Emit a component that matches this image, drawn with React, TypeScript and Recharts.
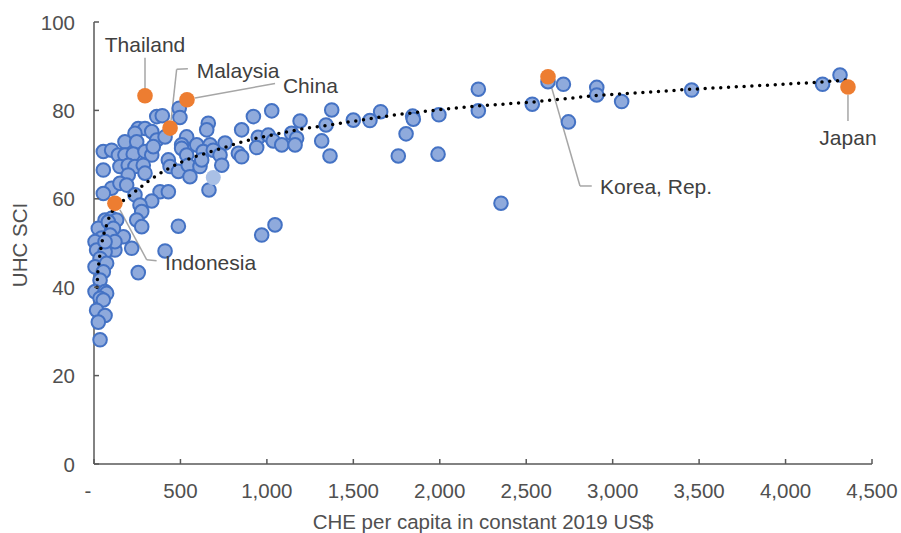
import { ScatterChart, Scatter, XAxis, YAxis, ReferenceLine, ReferenceDot, Label } from 'recharts'

const FONT = '"Liberation Sans", Arial, Helvetica, sans-serif'
const AXIS = '#595959'
const TICK_TEXT = '#505050'
const NOTE_TEXT = '#404040'

const xTicks = [0, 500, 1000, 1500, 2000, 2500, 3000, 3500, 4000, 4500]
const yTicks = [0, 20, 40, 60, 80, 100]

// [CHE per capita, UHC SCI]
const otherCountries: [number, number][] = [
  [363, 78.6], [395, 78.8], [493, 80.5], [497, 78.4], [661, 77.1], [652, 75.6], [256, 75.9], [295, 75.9],
  [334, 75.2], [237, 74.8], [179, 72.9], [247, 72.9], [363, 73.3], [411, 74.0], [536, 74.0], [507, 72.2],
  [594, 72.2], [758, 72.6], [671, 72.2], [54, 70.7], [102, 71.0], [141, 69.9], [179, 69.9], [227, 70.1],
  [295, 70.7], [334, 69.9], [343, 71.8], [507, 71.4], [536, 69.9], [632, 70.7], [690, 71.0], [729, 69.9],
  [835, 70.3], [54, 66.5], [150, 67.3], [198, 67.6], [237, 67.3], [285, 67.6], [295, 65.8], [198, 65.4],
  [430, 68.8], [440, 67.3], [488, 66.2], [545, 67.6], [555, 65.0], [613, 67.3], [623, 68.8], [739, 67.6],
  [665, 62.0], [102, 62.4], [150, 63.5], [189, 63.1], [237, 60.9], [54, 61.2], [382, 61.6], [430, 61.6],
  [334, 59.5], [266, 58.6], [276, 57.1], [247, 55.2], [276, 53.7], [488, 53.8], [411, 48.2], [256, 43.3],
  [170, 51.4], [218, 48.8], [121, 48.4], [64, 55.2], [102, 55.6], [131, 55.2], [25, 53.3], [44, 51.1],
  [6, 50.3], [15, 48.4], [64, 48.0], [35, 46.5], [6, 44.6], [73, 45.4], [54, 43.5], [35, 41.6],
  [6, 39.0], [64, 39.0], [73, 38.6], [35, 37.5], [54, 37.1], [15, 34.8], [64, 33.6], [25, 32.1],
  [35, 28.1], [83, 54.8], [112, 53.3], [93, 51.8], [121, 50.3], [64, 50.3],
  [1028, 79.9], [922, 78.6], [854, 75.6], [950, 73.9], [941, 71.6], [854, 69.5], [1008, 74.4], [1037, 73.1],
  [1086, 72.2], [1143, 74.8], [1172, 73.7], [1163, 72.2], [1192, 77.6], [1317, 73.1], [1342, 76.7], [1375, 80.1],
  [1365, 69.7], [1500, 77.8], [1596, 77.7], [1658, 79.7], [1805, 74.7], [1760, 69.7], [1843, 78.7], [1847, 78.0],
  [1995, 79.0], [1990, 70.1], [970, 51.8], [1047, 54.1], [2223, 84.8], [2223, 79.9], [2354, 59.0], [2535, 81.4],
  [2626, 86.5], [2715, 85.9], [2744, 77.4], [2908, 85.2], [2908, 83.5], [3052, 82.0], [3457, 84.6], [4214, 85.9],
  [4315, 88.0],
]
const fadedPoint: [number, number][] = [[690, 64.8]]

const highlightNames = ['Thailand', 'Malaysia', 'China', 'Indonesia', 'Korea, Rep.', 'Japan']
const highlightChe = [295, 440, 538, 121, 2626, 4361]
const highlightUhc = [83.3, 76.0, 82.4, 59.0, 87.6, 85.3]

// leader lines and label anchors, in data units
const leaderPaths: [number, number][][] = [
  [[295, 84.8], [295, 91.9]],
  [[446, 77.8], [478, 89.3], [543, 89.4]],
  [[584, 82.8], [1047, 86.1]],
  [[150, 57.5], [305, 46.2], [362, 46.0]],
  [[2643, 85.7], [2811, 62.9], [2879, 62.9]],
  [[4361, 83.5], [4361, 77.6]],
]
const labelAt: [number, number][] = [[295, 94.8], [594, 89.1], [1093, 85.7], [411, 45.5], [2927, 62.7], [4361, 73.8]]
const labelAnchor = ['middle', 'start', 'start', 'start', 'start', 'middle']

// dotted trend line
const trendChe = [17, 23, 35, 52, 81, 110, 150, 191, 249, 324, 405, 492, 578, 671, 763, 856, 949, 1087, 1232, 1365, 1510, 1654, 1787, 1984, 2215, 2539, 2886, 3459, 3893, 4199, 4361]
const trendUhc = [40.0, 43.9, 47.7, 51.4, 55.2, 57.5, 59.0, 60.2, 62.0, 64.3, 66.3, 68.1, 69.5, 70.6, 71.7, 72.9, 73.8, 74.9, 76.0, 76.7, 77.6, 78.5, 79.2, 80.1, 81.0, 81.9, 83.3, 84.8, 85.7, 86.4, 86.9]

const blueData = otherCountries.map(([che, uhc]) => ({ che, uhc }))
const fadedData = fadedPoint.map(([che, uhc]) => ({ che, uhc }))
const orangeData = highlightNames.map((name, i) => ({ name, che: highlightChe[i], uhc: highlightUhc[i] }))
const trendData = trendChe.map((che, i) => ({ che, uhc: trendUhc[i] }))

const fmtX = (v: number) => (v === 0 ? '-' : v.toLocaleString('en-US'))

function XTick(p: any) {
  const v = p.payload.value
  return (
    <g>
      <line x1={p.x} y1={p.y} x2={p.x} y2={p.y - 5} stroke={AXIS} strokeWidth={1.5} />
      <text x={p.x} y={p.y + 34} dx={v === 0 ? -6 : 0} textAnchor="middle" fontSize={20.5} fontFamily={FONT} fill={TICK_TEXT}>
        {fmtX(v)}
      </text>
    </g>
  )
}

function YTick(p: any) {
  return (
    <g>
      <line x1={p.x} y1={p.y} x2={p.x + 5} y2={p.y} stroke={AXIS} strokeWidth={1.5} />
      <text x={p.x - 19} y={p.y + 7.5} textAnchor="end" fontSize={20.5} fontFamily={FONT} fill={TICK_TEXT}>
        {p.payload.value}
      </text>
    </g>
  )
}

const BlueDot = (p: any) => <circle cx={p.cx} cy={p.cy} r={6.8} fill="#8faadc" stroke="#4472c4" strokeWidth={2} />
const FadedDot = (p: any) => <circle cx={p.cx} cy={p.cy} r={7.5} fill="#a9c0e6" />
const OrangeDot = (p: any) => <circle cx={p.cx} cy={p.cy} r={7.8} fill="#ed7d31" />

export default function App() {
  return (
    <div style={{ position: 'absolute', left: 0, top: 0, width: 901, height: 533, background: '#fff' }}>
      <ScatterChart width={901} height={533} margin={{ top: 22, right: 29, bottom: 0, left: 0 }}>
        <XAxis
          type="number"
          dataKey="che"
          domain={[0, 4500]}
          ticks={xTicks}
          interval={0}
          height={69}
          tickSize={0}
          tickMargin={0}
          tickLine={false}
          tick={<XTick />}
          axisLine={{ stroke: AXIS, strokeWidth: 1.5 }}
        >
          <Label
            content={(p: any) => (
              <text x={p.viewBox.x + p.viewBox.width / 2} y={p.viewBox.y + p.viewBox.height - 4} textAnchor="middle" fontSize={20.5} fontFamily={FONT} fill={TICK_TEXT}>
                CHE per capita in constant 2019 US$
              </text>
            )}
          />
        </XAxis>
        <YAxis
          type="number"
          dataKey="uhc"
          domain={[0, 100]}
          ticks={yTicks}
          interval={0}
          width={94}
          tickSize={0}
          tickMargin={0}
          tickLine={false}
          tick={<YTick />}
          axisLine={{ stroke: AXIS, strokeWidth: 1.5 }}
        >
          <Label
            content={(p: any) => {
              const cx = p.viewBox.x + 27
              const cy = p.viewBox.y + p.viewBox.height / 2 + 2
              return (
                <text x={cx} y={cy} transform={`rotate(-90 ${cx} ${cy})`} textAnchor="middle" fontSize={20.5} fontFamily={FONT} fill={TICK_TEXT}>
                  UHC SCI
                </text>
              )
            }}
          />
        </YAxis>
        <Scatter data={blueData} shape={BlueDot} isAnimationActive={false} legendType="none" />
        <Scatter data={fadedData} shape={FadedDot} isAnimationActive={false} legendType="none" />
        {leaderPaths.flatMap((path, i) =>
          path.slice(1).map((pt, j) => (
            <ReferenceLine
              key={`l${i}-${j}`}
              segment={[{ x: path[j][0], y: path[j][1] }, { x: pt[0], y: pt[1] }]}
              stroke="#a6a6a6"
              strokeWidth={1.5}
            />
          ))
        )}
        <Scatter
          data={trendData}
          line={{ stroke: '#000', strokeWidth: 3.5, strokeDasharray: '0 7.8', strokeLinecap: 'round' }}
          shape={() => <g />}
          isAnimationActive={false}
          legendType="none"
        />
        <Scatter data={orangeData} shape={OrangeDot} isAnimationActive={false} legendType="none" />
        {highlightNames.map((name, i) => (
          <ReferenceDot
            key={name}
            x={labelAt[i][0]}
            y={labelAt[i][1]}
            r={0}
            shape={(p: any) => (
              <text x={p.cx} y={p.cy + 7.5} textAnchor={labelAnchor[i] as any} fontSize={21} fontFamily={FONT} fill={NOTE_TEXT}>
                {name}
              </text>
            )}
          />
        ))}
      </ScatterChart>
    </div>
  )
}
